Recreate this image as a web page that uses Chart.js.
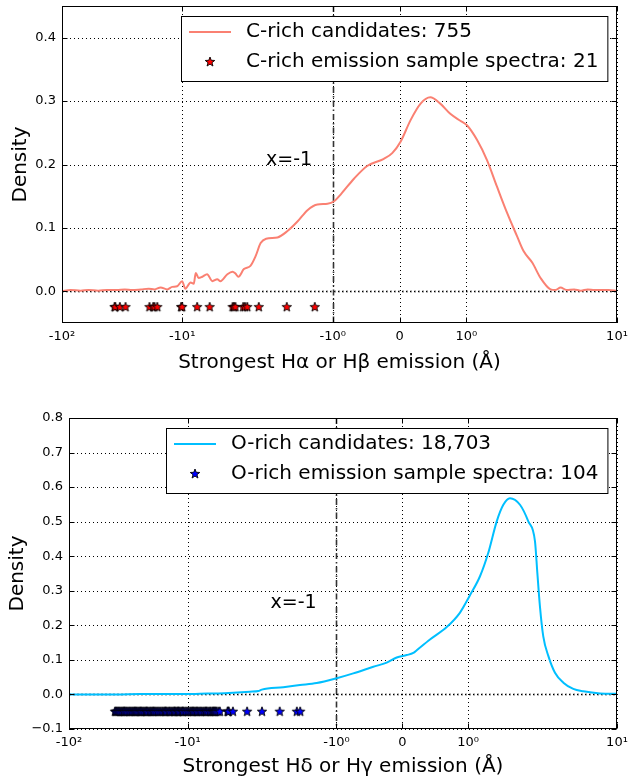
<!DOCTYPE html>
<html>
<head>
<meta charset="utf-8">
<script src="https://cdn.jsdelivr.net/npm/chart.js@4.4.0/dist/chart.umd.min.js"></script>
<style>
  html, body { margin: 0; padding: 0; background: #fff; }
  canvas { display: block; position: absolute; left: 0; }
  #cChart { top: 0; }
  #oChart { top: 390px; }
</style>
</head>
<body>
<canvas id="cChart" width="629" height="390"></canvas>
<canvas id="oChart" width="629" height="389"></canvas>
<script>
// ---- data ----
const X_TICKS = [-100, -10, -1, 0, 1, 10];
const X_TICK_LABELS = ['-10²', '-10¹', '-10⁰', '0', '10⁰', '10¹'];
const C_Y_TICKS = [0, 0.1, 0.2, 0.3, 0.4];
const O_Y_TICKS = [-0.1, 0, 0.1, 0.2, 0.3, 0.4, 0.5, 0.6, 0.7, 0.8];

// C-rich KDE curve
const C_KDE_X = [-100, -85, -70, -60, -50, -42, -35, -30, -26, -22, -19, -17, -15.1, -13.3, -12.1,
  -11.0, -10.0, -9.4, -8.5, -8.0, -7.7, -7.3, -6.8, -6.2, -5.6, -5.1, -4.8, -4.2, -3.8, -3.6,
  -3.4, -3.06, -2.70, -2.45, -2.22, -2.0, -1.83, -1.68, -1.53, -1.38, -1.23, -1.08, -0.98, -0.88, -0.68,
  -0.48, -0.235, -0.11, 0.015, 0.165, 0.315, 0.46, 0.61, 0.76, 0.91, 1.01, 1.16, 1.31, 1.46, 1.61,
  1.76, 1.86, 1.99, 2.31, 2.80, 3.08, 3.39, 3.8, 4.4, 5.0, 5.7, 6.5, 7.5, 8.5, 10];
const C_KDE_Y = [0.000, 0.002, 0.001, 0.002, 0.001, 0.002, 0.002, 0.003, 0.002, 0.003, 0.004, 0.003, 0.006, 0.003, 0.007,
  0.008, 0.016, 0.004, 0.014, 0.012, 0.029, 0.021, 0.023, 0.027, 0.016, 0.019, 0.016, 0.027, 0.031, 0.028,
  0.023, 0.035, 0.040, 0.055, 0.076, 0.083, 0.085, 0.095, 0.110, 0.128, 0.137, 0.138, 0.142, 0.153, 0.178,
  0.198, 0.209, 0.218, 0.236, 0.270, 0.296, 0.306, 0.296, 0.280, 0.269, 0.262, 0.239, 0.207, 0.165, 0.124,
  0.087, 0.063, 0.045, 0.021, 0.003, 0.002, 0.006, 0.002, 0.003, 0.001, 0.003, 0.002, 0.002, 0.002, 0.001];

// C-rich emission sample spectra (stars)
const C_STAR_X = [-36.5, -36.0, -33.0, -29.6, -18.7, -17.4, -17.0, -16.1, -10.2, -10.0, -7.5,
  -5.9, -3.8, -3.7, -3.6, -3.1, -3.0, -2.87, -2.30, -1.69, -1.27];
const C_STAR_LEVEL = -0.025;

// O-rich KDE curve
const O_KDE_X = [-100, -60, -40, -25, -15, -10, -7.86, -5.5, -4.12, -2.98, -2.53, -2.37, -1.806, -1.553, -1.299,
  -0.996, -0.744, -0.440, -0.237, -0.085, 0.067, 0.167, 0.219, 0.420, 0.674, 0.876, 1.027, 1.179, 1.305, 1.433,
  1.533, 1.634, 1.786, 1.912, 2.035, 2.13, 2.24, 2.39, 2.64, 3.00, 3.53, 4.28, 5.20, 7.19, 10];
const O_KDE_Y = [0.000, 0.000, 0.000, 0.001, 0.001, 0.001, 0.002, 0.003, 0.005, 0.008, 0.010, 0.014, 0.021, 0.027, 0.033,
  0.047, 0.061, 0.080, 0.092, 0.107, 0.114, 0.120, 0.128, 0.159, 0.195, 0.237, 0.287, 0.342, 0.410, 0.501,
  0.549, 0.568, 0.549, 0.501, 0.443, 0.352, 0.255, 0.168, 0.111, 0.063, 0.034, 0.016, 0.009, 0.003, 0.002];

// O-rich emission sample spectra (stars)
const O_STAR_X = [-41, -40.2, -39.5, -38.6, -37.8, -37, -36.1, -35.4, -34.6, -34.2, -33.9, -33, -32.3, -31.5,
  -30.8, -30.2, -29.4, -28.7, -28.1, -27.9, -27.3, -26.8, -26.1, -25.5, -25.0, -24.8, -24.2, -23.6, -23.1,
  -22.5, -22.2, -21.9, -21.4, -20.8, -20.3, -19.8, -19.5, -19.2, -18.7, -18.3, -17.8, -17.3, -16.9, -16.4,
  -16, -15.6, -15.4, -15.2, -14.8, -14.4, -14.1, -13.7, -13.4, -13, -12.9, -12.7, -12.4, -12.1, -12.0,
  -11.8, -11.5, -11.2, -11.0, -10.9, -10.6, -10.3, -10, -9.8, -9.5, -9.3, -9.1, -9.0, -8.8, -8.6, -8.4,
  -8.3, -8.1, -7.9, -7.7, -7.5, -7.3, -7.1, -7.0, -6.9, -6.7, -6.5, -6.4, -6.2, -6.1, -6.0, -5.9, -5.8,
  -5.7, -5.5, -5.35, -4.6, -4.55, -4.5, -4.15, -3.15, -2.36, -1.86, -1.6, -1.55];
const O_STAR_LEVEL = -0.05;

// ---- symlog x scale (linthresh 2, linscale 1, base 10) ----
const LINTHRESH = 2;
const LINSCALE_ADJ = 1 / (1 - 1 / 10);

function symlog(v) {
  const a = Math.abs(v);
  if (a <= LINTHRESH) return v * LINSCALE_ADJ;
  return Math.sign(v) * LINTHRESH * (LINSCALE_ADJ + Math.log10(a / LINTHRESH));
}
function invSymlog(t) {
  const a = Math.abs(t);
  if (a <= LINTHRESH * LINSCALE_ADJ) return t / LINSCALE_ADJ;
  return Math.sign(t) * LINTHRESH * Math.pow(10, a / LINTHRESH - LINSCALE_ADJ);
}

class SymlogScale extends Chart.LinearScale {
  configure() {
    super.configure();
    this._t0 = symlog(this.min);
    this._tr = symlog(this.max) - this._t0;
  }
  getPixelForValue(v) {
    return this.getPixelForDecimal((symlog(v) - this._t0) / this._tr);
  }
  getValueForPixel(p) {
    return invSymlog(this._t0 + this.getDecimalForPixel(p) * this._tr);
  }
}
SymlogScale.id = 'symlog';
SymlogScale.defaults = Chart.LinearScale.defaults;
Chart.register(SymlogScale);

Chart.defaults.font.family = "'DejaVu Sans', sans-serif";
Chart.defaults.color = '#000';

// filled five point star, used as point style
function makeStar(fill, r) {
  const c = document.createElement('canvas');
  const s = Math.ceil(2 * r + 4);
  c.width = s; c.height = s;
  const g = c.getContext('2d');
  g.beginPath();
  for (let i = 0; i < 10; i++) {
    const rad = i % 2 === 0 ? r : r * 0.42;
    const ang = -Math.PI / 2 + i * Math.PI / 5;
    const px = s / 2 + rad * Math.cos(ang), py = s / 2 + rad * Math.sin(ang);
    i === 0 ? g.moveTo(px, py) : g.lineTo(px, py);
  }
  g.closePath();
  g.fillStyle = fill;
  g.fill();
  g.lineWidth = 0.9;
  g.strokeStyle = '#000';
  g.stroke();
  return c;
}

function line(ctx, x1, y1, x2, y2) {
  ctx.beginPath(); ctx.moveTo(x1, y1); ctx.lineTo(x2, y2); ctx.stroke();
}

// grid, reference lines, frame, inward ticks, note and boxed legend
const decorPlugin = {
  id: 'decor',
  beforeDatasetsDraw(chart, args, opts) {
    const { ctx, chartArea: a, scales: { x, y } } = chart;
    ctx.save();
    const y0 = Math.round(y.getPixelForValue(0)) + 0.5;
    ctx.strokeStyle = '#888'; ctx.lineWidth = 2; ctx.setLineDash([2, 2]);
    line(ctx, a.left, y0, a.right, y0);

    ctx.strokeStyle = '#000'; ctx.lineWidth = 1; ctx.setLineDash([1, 3]);
    x.ticks.forEach(t => {
      const px = Math.round(x.getPixelForValue(t.value)) + 0.5;
      line(ctx, px, a.top, px, a.bottom);
    });
    y.ticks.forEach(t => {
      const py = Math.round(y.getPixelForValue(t.value)) + 0.5;
      line(ctx, a.left, py, a.right, py);
    });

    const vx = Math.round(x.getPixelForValue(opts.vline)) + 0.5;
    ctx.strokeStyle = '#333'; ctx.lineWidth = 1.6; ctx.setLineDash([6, 3, 1.5, 3]);
    line(ctx, vx, a.top, vx, a.bottom);
    ctx.restore();
  },
  afterDatasetsDraw(chart, args, opts) {
    const { ctx, chartArea: a, scales: { x, y } } = chart;
    ctx.save();
    ctx.setLineDash([]);
    ctx.strokeStyle = '#000'; ctx.lineWidth = 1;
    const L = Math.round(a.left) + 0.5, R = Math.round(a.right) - 0.5;
    const T = Math.round(a.top) + 0.5, B = Math.round(a.bottom) - 0.5;
    ctx.strokeRect(L, T, R - L, B - T);
    x.ticks.forEach(t => {
      const px = Math.round(x.getPixelForValue(t.value)) + 0.5;
      line(ctx, px, B, px, B - 5);
      line(ctx, px, T, px, T + 5);
    });
    y.ticks.forEach(t => {
      const py = Math.round(y.getPixelForValue(t.value)) + 0.5;
      line(ctx, L, py, L + 5, py);
      line(ctx, R, py, R - 5, py);
    });

    // note next to the x=-1 line
    ctx.fillStyle = '#000';
    ctx.font = "19px 'DejaVu Sans'";
    ctx.textAlign = 'left'; ctx.textBaseline = 'alphabetic';
    ctx.fillText(opts.note.text, x.getPixelForValue(opts.note.x), y.getPixelForValue(opts.note.y));

    // legend box
    const ds = chart.data.datasets;
    ctx.font = "20px 'DejaVu Sans'";
    const tw = Math.max(ctx.measureText(ds[0].label).width, ctx.measureText(ds[1].label).width);
    const w = 65 + tw + 9, h = 65;
    const right = Math.round(a.right - 10), top = Math.round(a.top + 10);
    const left = Math.round(right - w);
    ctx.fillStyle = '#fff';
    ctx.fillRect(left, top, w, h);
    ctx.strokeStyle = '#000'; ctx.lineWidth = 1;
    ctx.strokeRect(left + 0.5, top + 0.5, w, h);
    ctx.strokeStyle = ds[0].borderColor; ctx.lineWidth = 2;
    line(ctx, left + 8, top + 16, left + 50, top + 16);
    const star = ds[1].pointStyle;
    ctx.drawImage(star, left + 29 - star.width / 2, top + 46 - star.height / 2);
    ctx.fillStyle = '#000'; ctx.textBaseline = 'middle';
    ctx.fillText(ds[0].label, left + 65, top + 16);
    ctx.fillText(ds[1].label, left + 65, top + 46);
    ctx.restore();
  }
};

function makeChart(id, p) {
  return new Chart(document.getElementById(id), {
    type: 'line',
    data: {
      datasets: [{
        label: p.curveLabel,
        data: p.kx.map((v, i) => ({ x: v, y: p.ky[i] })),
        borderColor: p.color,
        borderWidth: 2,
        pointRadius: 0,
        cubicInterpolationMode: 'monotone',
        fill: false
      }, {
        label: p.starLabel,
        data: p.sx.map(v => ({ x: v, y: p.level })),
        showLine: false,
        pointStyle: makeStar(p.starFill, 5),
        pointRadius: 5
      }]
    },
    options: {
      responsive: false,
      animation: false,
      layout: { padding: { left: 0, right: 12, top: p.padTop, bottom: 0 } },
      plugins: {
        legend: { display: false },
        tooltip: { enabled: false },
        decor: { vline: -1, note: p.note }
      },
      scales: {
        x: {
          type: 'symlog',
          min: -100, max: 10,
          afterBuildTicks: s => { s.ticks = X_TICKS.map(v => ({ value: v })); },
          afterFit: s => { s.height = p.xHeight; s.paddingLeft = 0; s.paddingRight = 0; },
          grid: { drawOnChartArea: false, drawTicks: false },
          border: { display: false },
          ticks: {
            autoSkip: false, maxRotation: 0, padding: 6,
            font: { size: 13 },
            callback: v => X_TICK_LABELS[X_TICKS.indexOf(v)]
          },
          title: {
            display: true, text: p.xTitle,
            font: { size: 20 }, padding: { top: 0, bottom: p.xTitlePad }
          }
        },
        y: {
          type: 'linear',
          min: p.yMin, max: p.yMax,
          afterBuildTicks: s => { s.ticks = p.yTicks.map(v => ({ value: v })); },
          afterFit: s => { s.width = p.yWidth; s.paddingTop = 0; s.paddingBottom = 0; },
          grid: { drawOnChartArea: false, drawTicks: false },
          border: { display: false },
          ticks: {
            padding: 6,
            font: { size: 13 },
            callback: v => (v < 0 ? '\u2212' + Math.abs(v).toFixed(1) : v.toFixed(1))
          },
          title: {
            display: true, text: 'Density',
            font: { size: 20 }, padding: { top: p.yTitlePad, bottom: 0 }
          }
        }
      }
    },
    plugins: [decorPlugin]
  });
}

makeChart('cChart', {
  curveLabel: 'C-rich candidates: 755',
  starLabel: 'C-rich emission sample spectra: 21',
  kx: C_KDE_X, ky: C_KDE_Y, sx: C_STAR_X, level: C_STAR_LEVEL,
  color: '#fa8072', starFill: '#ff0000',
  yMin: -0.05, yMax: 0.45, yTicks: C_Y_TICKS,
  xTitle: 'Strongest H\u03b1 or H\u03b2 emission (\u00c5)',
  note: { x: -2, y: 0.2, text: 'x=-1' },
  padTop: 6, xHeight: 67, yWidth: 62, xTitlePad: 15, yTitlePad: 9
});

makeChart('oChart', {
  curveLabel: 'O-rich candidates: 18,703',
  starLabel: 'O-rich emission sample spectra: 104',
  kx: O_KDE_X, ky: O_KDE_Y, sx: O_STAR_X, level: O_STAR_LEVEL,
  color: '#00bfff', starFill: '#0000ff',
  yMin: -0.1, yMax: 0.8, yTicks: O_Y_TICKS,
  xTitle: 'Strongest H\u03b4 or H\u03b3 emission (\u00c5)',
  note: { x: -2, y: 0.25, text: 'x=-1' },
  padTop: 28, xHeight: 50, yWidth: 69, xTitlePad: 0, yTitlePad: 6
});
</script>
</body>
</html>
